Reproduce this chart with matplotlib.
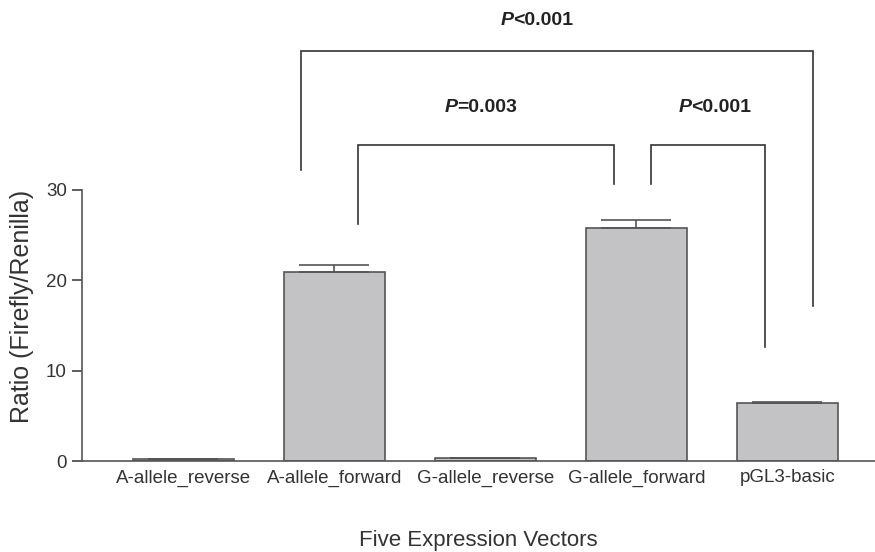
import matplotlib
matplotlib.use("Agg")
import matplotlib.pyplot as plt
import numpy as np

plt.rcParams['font.family'] = ['Liberation Sans', 'DejaVu Sans']

categories = ["A-allele_reverse", "A-allele_forward", "G-allele_reverse",
              "G-allele_forward", "pGL3-basic"]
values = [0.2, 20.9, 0.3, 25.8, 6.4]
errors = [0.05, 0.8, 0.05, 0.9, 0.1]
yticks = [0, 10, 20, 30]

# significance brackets: (x_left, x_right, y_top, y_left_bottom, y_right_bottom)
brackets = [
    (0.78, 4.17, 45.4, 32.2, 17.2),
    (1.155, 2.85, 35.0, 26.2, 30.7),
    (3.10, 3.85, 35.0, 30.7, 12.6),
]
# labels: (x_split, y, rest-of-text)
p_labels = [
    (2.185, 48.8, "<0.001"),
    (1.815, 39.1, "=0.003"),
    (3.364, 39.1, "<0.001"),
]

fig = plt.figure(figsize=(8.75, 5.52), dpi=100)
ax = fig.add_axes([82/875, 91/552, 1 - 82/875, 271/552])

x = np.arange(len(categories))
ax.bar(x, values, width=0.667, color="#c3c3c5", edgecolor="#555555", linewidth=1.2, zorder=2)
ax.errorbar(x, values, yerr=[np.zeros(len(errors)), errors], fmt='none',
            ecolor="#555555", elinewidth=1.2, capsize=25, capthick=1.2, zorder=3)

ax.set_xlim(-0.67, 4.58)
ax.set_ylim(0, 30)
ax.set_yticks(yticks)
ax.set_xticks(x)
ax.set_xticklabels(categories, fontsize=13.5, color="#333333")
ax.tick_params(axis='y', labelsize=13.5, colors="#333333", length=7, width=1.1,
               direction='out', pad=4)
ax.tick_params(axis='x', length=0, pad=6)
for s in ['top', 'right']:
    ax.spines[s].set_visible(False)
for s in ['left', 'bottom']:
    ax.spines[s].set_color("#555555")
    ax.spines[s].set_linewidth(1.2)

ax.set_ylabel("Ratio (Firefly/Renilla)", fontsize=18, color="#333333")
ax.yaxis.set_label_coords(-48/793, 0.572)
ax.set_xlabel("Five Expression Vectors", fontsize=16, color="#333333", labelpad=31)

for xl, xr, yt, ylb, yrb in brackets:
    ax.plot([xl, xl, xr, xr], [ylb, yt, yt, yrb], color="#333333", linewidth=1.2,
            clip_on=False, solid_joinstyle='miter')

for xs, yy, rest in p_labels:
    ax.text(xs, yy, "P", fontsize=14, fontweight='bold', fontstyle='italic',
            ha='right', va='center', color="#222222", clip_on=False)
    ax.text(xs, yy, rest, fontsize=14, fontweight='bold',
            ha='left', va='center', color="#222222", clip_on=False)

fig.savefig("out.png", dpi=100)
